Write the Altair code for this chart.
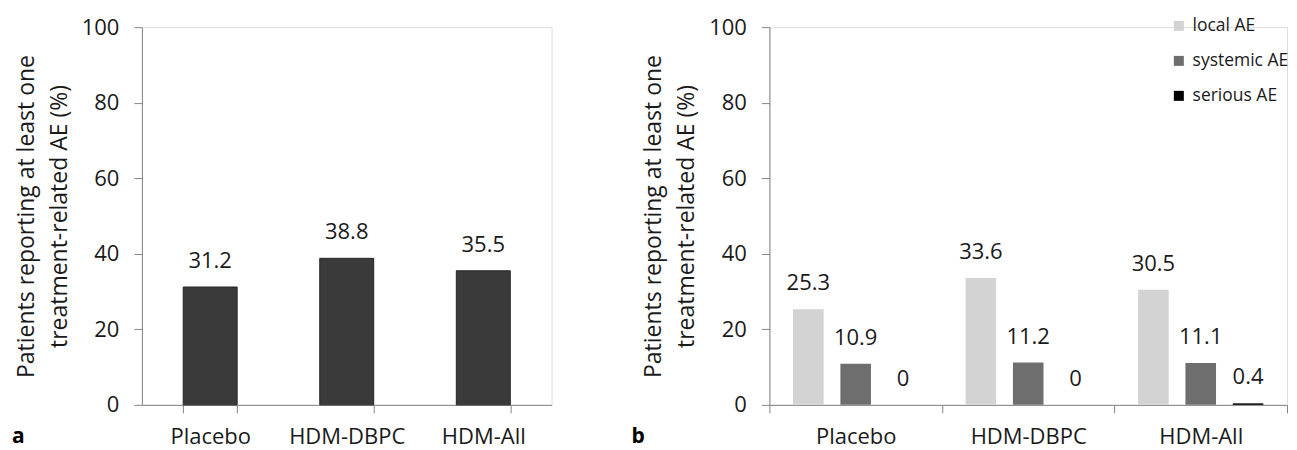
import altair as alt
import pandas as pd

groups = ["Placebo", "HDM-DBPC", "HDM-All"]
any_ae = [31.2, 38.8, 35.5]
any_ae_lbl = ["31.2", "38.8", "35.5"]

series = ["local AE", "systemic AE", "serious AE"]
local_ae = [25.3, 33.6, 30.5]
systemic_ae = [10.9, 11.2, 11.1]
serious_ae = [0, 0, 0.4]
local_lbl = ["25.3", "33.6", "30.5"]
systemic_lbl = ["10.9", "11.2", "11.1"]
serious_lbl = ["0", "0", "0.4"]
colors = ["#d3d3d3", "#6e6e6e", "#000000"]

y_title = ["Patients reporting at least one", "treatment-related AE (%)"]
y_ticks = [0, 20, 40, 60, 80, 100]

FONT = "Open Sans"
AX = "#868686"
TXT = "#1a1a1a"

df_a = pd.DataFrame({"group": groups, "value": any_ae, "label": any_ae_lbl})

rows = []
for s, vals, lbls in [(series[0], local_ae, local_lbl), (series[1], systemic_ae, systemic_lbl), (series[2], serious_ae, serious_lbl)]:
    for g, v, l in zip(groups, vals, lbls):
        rows.append({"group": g, "type": s, "value": v, "label": l})
df_b = pd.DataFrame(rows)


def x_axis():
    return alt.Axis(title=None, labelAngle=0, labelFontSize=22, labelColor=TXT, labelPadding=14,
                    tickBand="extent", tickSize=8, tickColor=AX, domainColor=AX, grid=False,
                    labelFont=FONT)


def y_axis():
    return alt.Axis(title=y_title, values=y_ticks, labelFontSize=22, labelColor=TXT, labelPadding=15,
                    tickSize=8, tickColor=AX, domainColor=AX, grid=False, titleFontSize=23,
                    titleFontWeight="normal", titleColor=TXT, titlePadding=10, titleLineHeight=33,
                    labelFont=FONT, titleFont=FONT)


W_A, W_B, H = 410, 518, 378

base_a = alt.Chart(df_a).encode(
    x=alt.X("group:N", sort=groups, scale=alt.Scale(paddingInner=0.605, paddingOuter=0.3025), axis=x_axis()),
    y=alt.Y("value:Q", scale=alt.Scale(domain=[0, 100]), axis=y_axis()),
)
bars_a = base_a.mark_bar(color="#3a3a3a", stroke="#242424", strokeWidth=1)
text_a = base_a.mark_text(dy=-19, baseline="alphabetic", fontSize=22, font=FONT, color=TXT).encode(text="label:N")
tag_a = alt.Chart(pd.DataFrame({"t": ["a"]})).mark_text(
    fontSize=21, fontWeight="bold", font=FONT, align="left", baseline="alphabetic", color="#000"
).encode(text="t:N", x=alt.value(-130), y=alt.value(H + 38))
panel_a = alt.layer(bars_a, text_a, tag_a).properties(width=W_A, height=H)

base_b = alt.Chart(df_b).encode(
    x=alt.X("group:N", sort=groups, scale=alt.Scale(paddingInner=0, paddingOuter=0), axis=x_axis()),
    xOffset=alt.XOffset("type:N", sort=series, scale=alt.Scale(paddingInner=0.354, paddingOuter=0.5)),
    y=alt.Y("value:Q", scale=alt.Scale(domain=[0, 100]), axis=y_axis()),
)
bars_b = base_b.mark_bar().encode(
    color=alt.Color("type:N", sort=series, scale=alt.Scale(domain=series, range=colors),
                    legend=alt.Legend(title=None, orient="none", legendX=1029, legendY=-10,
                                      symbolType="square", symbolSize=100, symbolStrokeWidth=0,
                                      labelFontSize=17.5, labelFont=FONT, labelColor=TXT,
                                      rowPadding=16, labelOffset=5))
)
text_b = base_b.mark_text(dy=-19, baseline="alphabetic", fontSize=22, font=FONT, color=TXT).encode(text="label:N")
tag_b = alt.Chart(pd.DataFrame({"t": ["b"]})).mark_text(
    fontSize=21, fontWeight="bold", font=FONT, align="left", baseline="alphabetic", color="#000"
).encode(text="t:N", x=alt.value(-138), y=alt.value(H + 38))
panel_b = alt.layer(bars_b, text_b, tag_b).properties(width=W_B, height=H)

chart = alt.hconcat(panel_a, panel_b, spacing=218, bounds="flush").configure_view(stroke=None).configure(
    font=FONT, background="white"
).properties(padding={"left": 3, "top": 7, "right": 0, "bottom": 0})

chart.save("out.html", embed_options={"renderer": "svg", "actions": False})
